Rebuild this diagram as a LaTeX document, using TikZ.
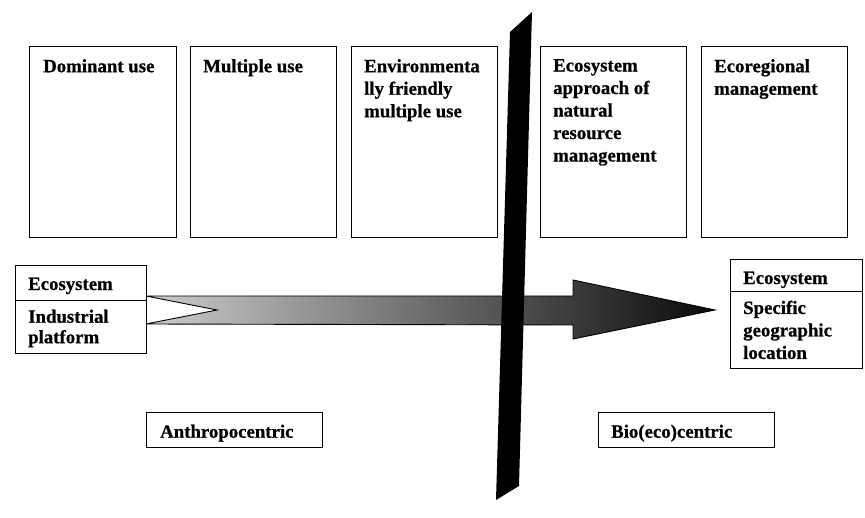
\documentclass[tikz,border=0pt]{standalone}
\usepackage{fontspec}
\setmainfont{Liberation Serif}
\newfontfamily\bsf{Liberation Serif}[UprightFont={* Bold}, FakeBold=0.7]
\definecolor{ga}{gray}{0.80}
\definecolor{gb}{gray}{0.55}
\definecolor{gc}{gray}{0.04}
\begin{document}
\begin{tikzpicture}[x=1pt,y=-1pt,
  box/.style={draw, line width=1pt, inner sep=0pt, anchor=north west},
  txt/.style={font=\bsf\fontsize{18.8}{22.5}\selectfont, inner sep=0pt, anchor=north west, align=left},
  txtb/.style={txt, font=\bsf\fontsize{18.8}{20.5}\selectfont}]
\useasboundingbox (0,0) rectangle (865,518);

% top boxes
\node[box, minimum width=147pt, minimum height=191pt] (b1) at (29,46) {};
\node[box, minimum width=146pt, minimum height=191pt] (b2) at (190,46) {};
\node[box, minimum width=146pt, minimum height=191pt] (b3) at (351,46) {};
\node[box, minimum width=146pt, minimum height=191pt] (b4) at (540,46) {};
\node[box, minimum width=146pt, minimum height=191pt] (b5) at (701,46) {};

\node[txt] (t1) at ([xshift=14pt,yshift=-13pt]b1.north west) {Dominant use};
\node[txt] (t2) at ([xshift=13pt,yshift=-13pt]b2.north west) {Multiple use};
\node[txt] (t3) at ([xshift=13pt,yshift=-13pt]b3.north west) {Environmenta\\lly friendly\\multiple use};
\node[txt] (t4) at ([xshift=13pt,yshift=-13pt]b4.north west) {Ecosystem\\approach of\\natural\\resource\\management};
\node[txt] (t5) at ([xshift=13pt,yshift=-13pt]b5.north west) {Ecoregional\\management};

% left and right boxes
\node[box, minimum width=131pt, minimum height=88pt] (L) at (15,265) {};
\draw[line width=1pt] ([yshift=-36pt]L.north west) -- ([yshift=-36pt]L.north east);
\node[txt] (lt1) at ([xshift=13pt,yshift=-12.5pt]L.north west) {Ecosystem};
\node[txtb] (lt2) at ([xshift=13pt,yshift=-44.5pt]L.north west) {Industrial\\platform};

\node[box, minimum width=132pt, minimum height=109pt] (R) at (730,259) {};
\draw[line width=1pt] ([yshift=-33pt]R.north west) -- ([yshift=-33pt]R.north east);
\node[txt] (rt1) at ([xshift=13pt,yshift=-12.5pt]R.north west) {Ecosystem};
\node[txt] (rt2) at ([xshift=13pt,yshift=-41.5pt]R.north west) {Specific\\geographic\\location};

% arrow
\shadedraw[left color=ga, middle color=gb, right color=gc, draw=black, line width=0.9pt, line join=miter]
  (146,296) -- (573,296) -- (573,280) -- (715,310) -- (573,339) -- (573,325)
  -- (146,324) -- (217,310) -- cycle;

% dividing bar
\fill[black] (510,32) -- (532,12) -- (519,486) -- (496,500) -- cycle;

% bottom labels
\node[box, minimum width=176pt, minimum height=35pt] (A) at (146,412) {};
\node[txt] (at) at ([xshift=14pt,yshift=-12.5pt]A.north west) {Anthropocentric};
\node[box, minimum width=176pt, minimum height=35pt] (B) at (598,412) {};
\node[txt] (bt) at ([xshift=13pt,yshift=-12.5pt]B.north west) {Bio(eco)centric};
\end{tikzpicture}
\end{document}
